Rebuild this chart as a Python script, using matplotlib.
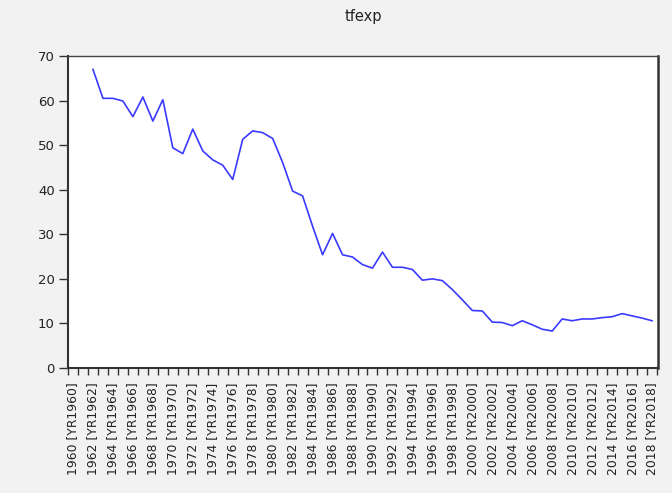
import matplotlib
matplotlib.use("Agg")
import matplotlib.pyplot as plt
from matplotlib.ticker import FixedLocator

years = list(range(1962, 2019))
tfexp = [67.0, 60.5, 60.5, 59.9, 56.4, 60.8, 55.4, 60.2, 49.4, 48.1,
         53.6, 48.7, 46.7, 45.5, 42.3, 51.3, 53.2, 52.8, 51.5, 46.1,
         39.7, 38.6, 31.8, 25.4, 30.2, 25.4, 24.9, 23.2, 22.4, 26.0,
         22.6, 22.6, 22.1, 19.7, 20.0, 19.6, 17.6, 15.3, 12.9, 12.8,
         10.3, 10.2, 9.5, 10.6, 9.7, 8.7, 8.3, 11.0, 10.6, 11.0,
         11.0, 11.3, 11.5, 12.2, 11.7, 11.2, 10.6]
label_years = list(range(1960, 2019, 2))
tick_labels = [f"{y} [YR{y}]" for y in label_years]
yticks = [0, 10, 20, 30, 40, 50, 60, 70]

plt.rcParams['font.family'] = ['DejaVu Sans']

fig = plt.figure(figsize=(6.72, 4.93), dpi=100, facecolor='#f2f2f2')
ax = fig.add_axes([68/672, 1-368/493, (658-68)/672, (368-56)/493])
ax.set_facecolor('white')
ax.plot(years, tfexp, color='#3a3aff', lw=1.2)

ax.set_xlim(1959.5, 2018.6)
ax.set_ylim(0, 70)
ax.set_yticks(yticks)
ax.set_xticks(label_years)
ax.set_xticklabels(tick_labels, rotation=90, fontsize=8.9, color='#222222')
ax.xaxis.set_minor_locator(FixedLocator([y + 0.5 for y in range(1959, 2019)]))
ax.tick_params(axis='x', which='major', length=0, pad=10.5)
ax.tick_params(axis='x', which='minor', length=5, width=1, color='#333333', direction='out')
ax.tick_params(axis='y', length=6.5, width=1, color='#333333', labelsize=9.5,
               labelcolor='#222222', pad=3)
for s in ['left', 'bottom']:
    ax.spines[s].set_linewidth(1.5)
    ax.spines[s].set_color('#333333')
ax.spines['top'].set_color('#444444')
ax.spines['top'].set_linewidth(1.0)
ax.spines['right'].set_color('#333333')
ax.spines['right'].set_linewidth(1.8)

fig.text(363/672, 1-17/493, 'tfexp', ha='center', va='center', fontsize=10.5, color='#222222')

fig.savefig('out.png', dpi=100, facecolor=fig.get_facecolor())
